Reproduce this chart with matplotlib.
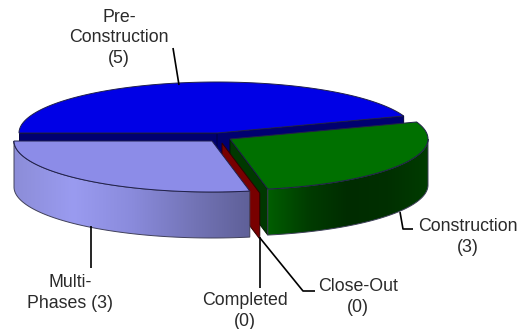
import numpy as np
import matplotlib
matplotlib.use('Agg')
import matplotlib.pyplot as plt
from matplotlib.patches import Polygon
from matplotlib.colors import LinearSegmentedColormap

categories = ['Pre-\nConstruction', 'Construction', 'Close-Out', 'Completed', 'Multi-\nPhases']
counts = [5, 3, 0, 0, 3]
spans = [160.5, 98.5, 0, 0, 101]
start_angle = 180

plt.rcParams['font.family'] = ['Liberation Sans', 'DejaVu Sans']

W, H = 525, 329
RX, RY, DEPTH = 198, 51, 46

fig = plt.figure(figsize=(W / 100, H / 100), dpi=100)
ax = fig.add_axes([0, 0, 1, 1])


def arc(cx, cy, a0, a1):
    t = np.radians(np.linspace(a0, a1, 120))
    return np.column_stack([cx + RX * np.cos(t), cy + RY * np.sin(t)])


def cut_face(c, angle, color, edge):
    p = arc(*c, angle, angle)[0]
    ax.add_patch(Polygon([c, p, p + [0, DEPTH], np.add(c, (0, DEPTH))],
                         fc=color, ec=edge, lw=0.7))


def wall(c, a0, a1, colors):
    # outer wall, gradient runs left to right like the original
    pts = arc(*c, a0, a1)
    outline = np.vstack([pts, pts[::-1] + [0, DEPTH]])
    cmap = LinearSegmentedColormap.from_list('w', colors)
    im = ax.imshow(np.linspace(0, 1, 256)[None, :], cmap=cmap, aspect='auto', zorder=1,
                   extent=[outline[:, 0].min(), outline[:, 0].max(),
                           outline[:, 1].max(), outline[:, 1].min()])
    im.set_clip_path(Polygon(outline, transform=ax.transData))
    ax.add_patch(Polygon(outline, fc='none', ec='#40405a', lw=0.7))


def top(c, a0, a1, color):
    pts = np.vstack([c, arc(*c, a0, a1)])
    ax.add_patch(Polygon(pts, fc=color, ec='#20204a', lw=0.7))


edges = start_angle + np.cumsum([0] + spans)

# pre-construction, navy cut faces under the top
pre_c = (217, 133)
cut_face(pre_c, edges[0], '#000070', '#000040')
cut_face(pre_c, edges[1], '#000070', '#000040')
top(pre_c, edges[0], edges[1], '#0000e6')

# construction
con_c = (230, 139)
cut_face(con_c, edges[2], '#003800', '#001800')
wall(con_c, 360, edges[2], ['#005e00', '#003c00', '#002c00', '#003000', '#003c00'])
top(con_c, edges[1], edges[2], '#007000')

# zero slices only show as a sliver of cut face
comp_c = (222, 143)
cut_face(comp_c, edges[3], '#780000', '#300000')

# multi-phases
multi_c = (212, 141)
wall(multi_c, edges[4], edges[5], ['#8c8dd8', '#9a9bf0', '#8a8bdc', '#7475b8', '#5f6098'])
top(multi_c, edges[4], edges[5], '#8c8ce8')

# leader lines
leaders = [
    ([173, 179], [48, 85]),
    ([400, 403, 413], [212, 229, 229]),
    ([260, 303, 315], [238, 291, 291]),
    ([260, 260], [237, 288]),
    ([91, 91], [226, 268]),
]
for xs, ys in leaders:
    ax.plot(xs, ys, color='black', lw=1.2, solid_capstyle='butt', zorder=5)

positions = [(119, 38), (468, 237), (358, 297), (245, 311), (70, 293)]
for name, n, (x, y) in zip(categories, counts, positions):
    sep = ' ' if name.startswith('Multi') else '\n'
    ax.text(x, y, f'{name}{sep}({n})', ha='center', va='center', fontsize=12.8,
            color='#2a2a2a', linespacing=1.27)

ax.set_xlim(0, W)
ax.set_ylim(H, 0)
ax.axis('off')
fig.savefig('out.png', dpi=100)
